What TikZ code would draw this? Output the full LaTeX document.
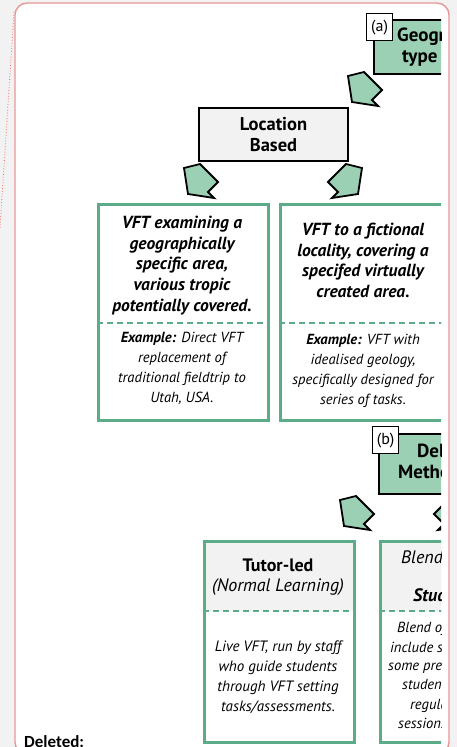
\documentclass[tikz,border=0pt]{standalone}
\usepackage{fontspec}
\setmainfont{PT Sans}
\newfontfamily\notefont{Carlito}
\usetikzlibrary{positioning}

\definecolor{vftgreen}{RGB}{155,208,181}
\definecolor{vftedge}{RGB}{92,172,138}
\definecolor{notered}{RGB}{232,150,150}
\definecolor{pagegrey}{RGB}{242,242,242}
\definecolor{boxgrey}{RGB}{242,242,242}

\tikzset{
  headbox/.style={draw=black, fill=vftgreen, line width=1.8pt, anchor=north west, inner sep=0pt},
  tagbox/.style={draw=black, fill=white, line width=1.2pt, anchor=north west, inner sep=0pt,
    minimum width=26, minimum height=27, font=\fontsize{16}{18}\selectfont},
  greybox/.style={draw=black, fill=boxgrey, line width=1.8pt, inner sep=0pt, align=center,
    font=\fontsize{18.5}{21.7}\selectfont\bfseries},
  vftbox/.style={draw=vftedge, line width=2.8pt, anchor=north west, inner sep=0pt},
  divider/.style={draw=vftedge, line width=2.4pt, dash pattern=on 6pt off 4pt},
  headtext/.style={anchor=base west, inner sep=0pt, font=\fontsize{19}{20}\selectfont\bfseries},
  bigtext/.style={anchor=north, inner sep=0pt, align=center, font=\fontsize{17.5}{20.6}\selectfont\bfseries\itshape},
  smalltext/.style={anchor=north, inner sep=0pt, align=center, font=\fontsize{14.6}{20}\selectfont\itshape},
  cuttext/.style={anchor=base west, inner sep=0pt, font=\fontsize{14.6}{20}\selectfont\itshape},
  turnarrow/.pic={
    \draw[draw=black, fill=vftgreen, line width=1.8pt, line join=miter]
      (0,0) -- (16,-4) -- (34,14) -- (24,24) -- (30,30) -- (4,26) -- cycle;
  }
}

\begin{document}
\begin{tikzpicture}[x=1pt, y=-1pt]
  \useasboundingbox (0,0) rectangle (457,747);
  \clip (0,0) rectangle (457,747);
  \fill[pagegrey] (0,0) rectangle (457,747);

  % comment balloon
  \filldraw[fill=white, draw=notered, line width=1.4pt, rounded corners=12pt] (15,3) rectangle (449,754);
  \draw[notered!70!red, line width=0.8pt, dotted] (14,12) -- (0,228);

  \begin{scope}
    \clip (16,4) rectangle (441,747);

    % (a) geographical type
    \node[headbox, minimum width=150, minimum height=54] (geo) at (373,19) {};
    \node[tagbox] (taga) at (366,13) {(a)};
    \node[headtext] (geo1) at (397,41) {Geographical};
    \node[headtext] (geo2) at (402,62) {type};
    \pic at (348,76) {turnarrow};

    \node[greybox, minimum width=149, minimum height=53] (loc) at (273.5,134.5) {Location\\Based};
    \pic at (184,168) {turnarrow};
    \pic[xscale=-1] at (362,168) {turnarrow};

    % location based boxes
    \node[vftbox, minimum width=170, minimum height=216] (real) at (97,203) {};
    \draw[divider] (real.west |- 0,323) -- (real.east |- 0,323);
    \node[bigtext] (real1) at (182,216) {VFT examining a\\geographically\\specific area,\\various tropic\\potentially covered.};
    \node[smalltext] (real2) at (182,332) {\textbf{Example:} Direct VFT\\replacement of\\traditional fieldtrip to\\Utah, USA.};

    \node[vftbox, minimum width=168, minimum height=216] (fict) at (279,203) {};
    \draw[divider] (fict.west |- 0,323) -- (fict.east |- 0,323);
    \node[bigtext] (fict1) at (363,223) {VFT to a fictional\\locality, covering a\\specifed virtually\\created area.};
    \node[smalltext] (fict2) at (363,334) {\textbf{Example:} VFT with\\idealised geology,\\specifically designed for\\series of tasks.};

    % (b) delivery methods
    \node[headbox, minimum width=150, minimum height=60] (dlv) at (378,433) {};
    \node[tagbox] (tagb) at (372,426) {(b)};
    \node[headtext] (dlv1) at (417,457) {Delivery};
    \node[headtext] (dlv2) at (398,478) {Methods};
    \pic at (340,500) {turnarrow};
    \pic[xscale=-1] at (468,500) {turnarrow};

    \fill[boxgrey] (203,540) rectangle (353,611);
    \node[vftbox, minimum width=150, minimum height=201] (tut) at (203,540) {};
    \draw[divider] (tut.west |- 0,611) -- (tut.east |- 0,611);
    \node[anchor=north, inner sep=0pt, align=center, font=\fontsize{18}{20}\selectfont] (tut1) at (278,559)
      {\textbf{Tutor-led}\\\textit{(Normal Learning)}};
    \node[smalltext, font=\fontsize{15}{20}\selectfont\itshape] (tut2) at (278,641)
      {Live VFT, run by staff\\who guide students\\through VFT setting\\tasks/assessments.};

    \fill[boxgrey] (379,540) rectangle (529,611);
    \node[vftbox, minimum width=150, minimum height=201] (bld) at (379,540) {};
    \draw[divider] (bld.west |- 0,611) -- (bld.east |- 0,611);
    \node[anchor=base west, inner sep=0pt, font=\fontsize{18}{20}\selectfont\itshape] (bld1) at (401,563) {Blended Learning};
    \node[anchor=base west, inner sep=0pt, font=\fontsize{18}{20}\selectfont\bfseries\itshape] (bld2) at (413,601) {Student-led};
    \node[cuttext] (bld3) at (397,632) {Blend of approaches};
    \node[cuttext] (bld4) at (390,652) {include some tutor-led};
    \node[cuttext] (bld5) at (388,670) {some pre-recorded};
    \node[cuttext] (bld6) at (402,689) {students complete};
    \node[cuttext] (bld7) at (410,709) {regular};
    \node[cuttext] (bld8) at (398,728) {sessions.};

    \node[anchor=base west, inner sep=0pt, font=\notefont\fontsize{17}{18}\selectfont\bfseries] (del) at (24,747) {Deleted:};
  \end{scope}
\end{tikzpicture}
\end{document}
